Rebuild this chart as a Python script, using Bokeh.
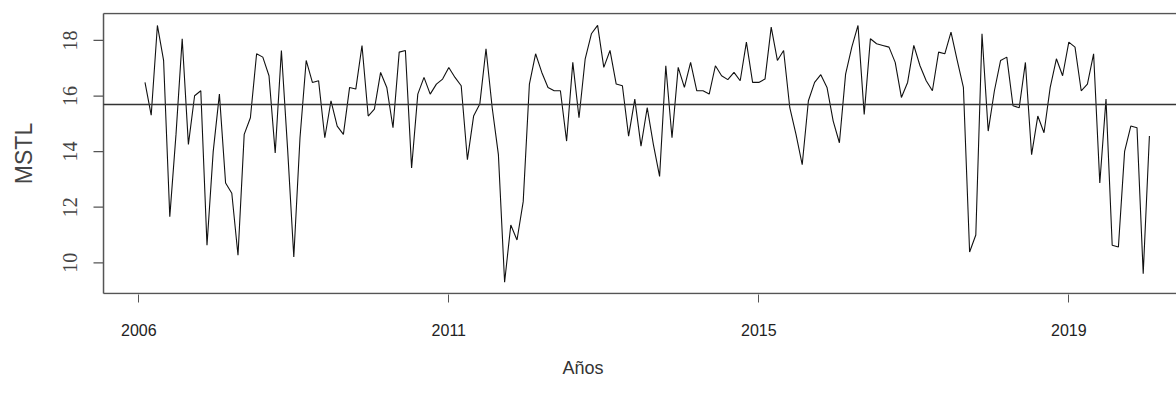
import math
from bokeh.plotting import figure
from bokeh.models import Range1d, FixedTicker, Title
from bokeh.embed import file_html
from bokeh.resources import INLINE

# Monthly MSTL series (index 1..163)
mstl = [
    16.49, 15.31, 18.54, 17.28, 11.66, 14.62, 18.06, 14.26, 16.01, 16.19,
    10.63, 14.00, 16.07, 12.87, 12.50, 10.27, 14.62, 15.22, 17.52, 17.40,
    16.73, 13.95, 17.64, 14.10, 10.21, 14.50, 17.28, 16.49, 16.55, 14.50,
    15.83, 14.92, 14.62, 16.31, 16.25, 17.82, 15.28, 15.53, 16.85, 16.31,
    14.86, 17.58, 17.64, 13.41, 16.07, 16.67, 16.07, 16.43, 16.61, 17.03,
    16.67, 16.37, 13.71, 15.28, 15.71, 17.70, 15.58, 13.89, 9.30, 11.36,
    10.82, 12.20, 16.43, 17.52, 16.85, 16.31, 16.19, 16.19, 14.38, 17.21,
    15.22, 17.34, 18.24, 18.54, 17.03, 17.64, 16.43, 16.37, 14.56, 15.89,
    14.20, 15.58, 14.25, 13.11, 17.09, 14.50, 17.03, 16.31, 17.21, 16.19,
    16.19, 16.07, 17.09, 16.73, 16.59, 16.85, 16.55, 17.94, 16.49, 16.49,
    16.61, 18.48, 17.28, 17.64, 15.58, 14.62, 13.53, 15.83, 16.49, 16.77,
    16.31, 15.10, 14.32, 16.79, 17.76, 18.54, 15.34, 18.06, 17.88, 17.82,
    17.76, 17.21, 15.95, 16.49, 17.82, 17.09, 16.55, 16.19, 17.58, 17.52,
    18.30, 17.28, 16.31, 10.39, 11.00, 18.24, 14.74, 16.19, 17.28, 17.40,
    15.65, 15.58, 17.21, 13.89, 15.28, 14.68, 16.31, 17.34, 16.73, 17.94,
    17.76, 16.19, 16.43, 17.52, 12.87, 15.89, 10.63, 10.57, 14.01, 14.92,
    14.86, 9.61, 14.56,
]
month_index = list(range(1, len(mstl) + 1))
mean_mstl = 15.70

year_ticks = [0, 50, 100, 150]
year_labels = ["2006", "2011", "2015", "2019"]
y_ticks = [10, 12, 14, 16, 18]
y_tick_labels = [str(v) for v in y_ticks]

# R-style plotting box (data units) and surrounding view
BOX_X0, BOX_X1 = -5.69, 167.37
BOX_Y0, BOX_Y1 = 8.895, 18.97
VIEW_X0 = -13.435
PAD_Y = 0.036
TICK_END_X = -7.306      # outer end of the y tick marks
YLAB_X = -11.03          # centre of the rotated y tick labels

p = figure(width=1176, height=400, output_backend="svg", toolbar_location=None,
           x_range=Range1d(VIEW_X0, BOX_X1), y_range=Range1d(BOX_Y0 - PAD_Y, BOX_Y1 + PAD_Y),
           min_border_left=55, min_border_right=0, min_border_top=12, min_border_bottom=106)
p.background_fill_color = "white"
p.border_fill_color = "white"
p.outline_line_color = None
p.grid.visible = False

box_col = "#555555"
# box: left, top, bottom edges (right edge lies beyond the visible area)
p.segment(x0=[BOX_X0, BOX_X0, BOX_X0], y0=[BOX_Y0, BOX_Y1, BOX_Y0],
          x1=[BOX_X0, BOX_X1, BOX_X1], y1=[BOX_Y1, BOX_Y1, BOX_Y0],
          line_color=box_col, line_width=1.5)
# y ticks and rotated labels
p.segment(x0=[TICK_END_X] * len(y_ticks), y0=y_ticks, x1=[BOX_X0] * len(y_ticks), y1=y_ticks,
          line_color=box_col, line_width=1.2)
p.text(x=[YLAB_X] * len(y_ticks), y=y_ticks, text=y_tick_labels, angle=math.pi / 2,
       text_align="center", text_baseline="middle", text_font="Liberation Sans",
       text_font_size="20px", text_color="#444444")

# series and its mean
p.line(month_index, mstl, line_color="#111111", line_width=1.1)
p.segment(x0=[BOX_X0], y0=[mean_mstl], x1=[BOX_X1], y1=[mean_mstl],
          line_color="#333333", line_width=1.5)

xa = p.xaxis[0]
xa.ticker = FixedTicker(ticks=year_ticks)
xa.major_label_overrides = {t: l for t, l in zip(year_ticks, year_labels)}
xa.minor_tick_line_color = None
xa.axis_line_color = None
xa.major_tick_line_color = box_col
xa.major_tick_out = 8
xa.major_tick_in = 0
xa.major_label_standoff = 21
xa.major_label_text_font = "Liberation Sans"
xa.major_label_text_font_size = "16px"
xa.major_label_text_color = "#222222"

ya = p.yaxis[0]
ya.ticker = FixedTicker(ticks=[])
ya.minor_tick_line_color = None
ya.major_tick_line_color = None
ya.axis_line_color = None
ya.major_tick_out = 0
ya.major_tick_in = 0
ya.axis_label = "MSTL"
ya.axis_label_standoff = 19
ya.axis_label_text_font = "Liberation Sans"
ya.axis_label_text_font_size = "23px"
ya.axis_label_text_font_style = "normal"
ya.axis_label_text_color = "#444444"

p.add_layout(Title(text="Años", align="left", offset=507, standoff=34,
                   text_font="Liberation Sans", text_font_size="18px",
                   text_font_style="normal", text_color="#333333"), "below")

open("out.html", "w").write(file_html(p, INLINE))
